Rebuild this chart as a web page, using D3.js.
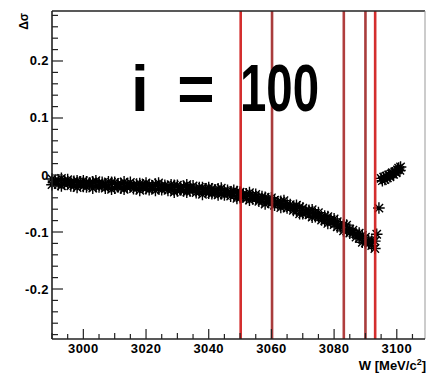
<!DOCTYPE html>
<html>
<head>
<meta charset="utf-8">
<script src="https://cdn.jsdelivr.net/npm/d3@7/dist/d3.min.js"></script>
<style>
body { margin: 0; background: #fff; }
text { font-family: "Liberation Sans", Arial, sans-serif; font-weight: bold; fill: #000; }
</style>
</head>
<body>
<script>
// scan points, W in MeV/c^2
const scanW = [
    2990, 2991, 2992, 2993, 2994, 2995, 2996, 2997, 2998, 2999,
    3000, 3001, 3002, 3003, 3004, 3005, 3006, 3007, 3008, 3009,
    3010, 3011, 3012, 3013, 3014, 3015, 3016, 3017, 3018, 3019,
    3020, 3021, 3022, 3023, 3024, 3025, 3026, 3027, 3028, 3029,
    3030, 3031, 3032, 3033, 3034, 3035, 3036, 3037, 3038, 3039,
    3040, 3041, 3042, 3043, 3044, 3045, 3046, 3047, 3048, 3049,
    3050, 3051, 3052, 3053, 3054, 3055, 3056, 3057, 3058, 3059,
    3060, 3061, 3062, 3063, 3064, 3065, 3066, 3067, 3068, 3069,
    3070, 3071, 3072, 3073, 3074, 3075, 3076, 3077, 3078, 3079,
    3080, 3081, 3082, 3083, 3084, 3085, 3086, 3087, 3088, 3089,
    3090, 3091, 3092, 3093
];
// upper edge of the band
const scanUpper = [
    -0.007, -0.010, -0.009, -0.006, -0.010, -0.008, -0.013, -0.011, -0.010, -0.012,
    -0.010, -0.012, -0.014, -0.012, -0.010, -0.014, -0.013, -0.017, -0.012, -0.013,
    -0.013, -0.016, -0.015, -0.012, -0.016, -0.013, -0.018, -0.016, -0.015, -0.017,
    -0.014, -0.017, -0.019, -0.016, -0.014, -0.019, -0.018, -0.021, -0.017, -0.018,
    -0.018, -0.022, -0.020, -0.017, -0.022, -0.019, -0.025, -0.022, -0.022, -0.024,
    -0.022, -0.024, -0.027, -0.024, -0.023, -0.028, -0.027, -0.031, -0.027, -0.029,
    -0.030, -0.034, -0.033, -0.031, -0.036, -0.034, -0.040, -0.038, -0.039, -0.042,
    -0.040, -0.044, -0.047, -0.046, -0.045, -0.051, -0.052, -0.056, -0.053, -0.056,
    -0.058, -0.063, -0.062, -0.061, -0.067, -0.066, -0.073, -0.072, -0.073, -0.078,
    -0.077, -0.082, -0.087, -0.087, -0.088, -0.095, -0.097, -0.103, -0.102, -0.106,
    -0.109, -0.115, -0.116, -0.116
];
// lower edge of the band
const scanLower = [
    -0.017, -0.014, -0.017, -0.019, -0.016, -0.015, -0.019, -0.019, -0.022, -0.017,
    -0.020, -0.021, -0.018, -0.023, -0.020, -0.021, -0.018, -0.023, -0.021, -0.025,
    -0.023, -0.020, -0.023, -0.025, -0.022, -0.020, -0.024, -0.024, -0.027, -0.022,
    -0.024, -0.026, -0.023, -0.027, -0.024, -0.026, -0.023, -0.027, -0.026, -0.030,
    -0.028, -0.026, -0.028, -0.030, -0.028, -0.026, -0.031, -0.030, -0.034, -0.029,
    -0.032, -0.033, -0.031, -0.035, -0.033, -0.035, -0.032, -0.037, -0.036, -0.041,
    -0.040, -0.038, -0.041, -0.044, -0.042, -0.041, -0.046, -0.046, -0.051, -0.047,
    -0.050, -0.053, -0.051, -0.057, -0.055, -0.058, -0.057, -0.062, -0.062, -0.068,
    -0.068, -0.067, -0.070, -0.074, -0.073, -0.073, -0.079, -0.080, -0.085, -0.083,
    -0.087, -0.091, -0.091, -0.098, -0.098, -0.102, -0.102, -0.109, -0.111, -0.118,
    -0.119, -0.119, -0.124, -0.129
];
// points past the dip
const tailW = [3093.6, 3094.3, 3095.0, 3095.4, 3095.8, 3096.2, 3096.6, 3097.0, 3097.4,
               3097.8, 3098.2, 3098.6, 3099.0, 3099.4, 3099.8, 3100.2, 3100.6, 3101.0, 3101.2];
const tailValues = [-0.104, -0.058, -0.006, -0.010, -0.004, -0.008, -0.002, -0.005, 0.000,
                    -0.003, 0.002, 0.004, 0.001, 0.006, 0.004, 0.009, 0.012, 0.008, 0.014];

// red vertical markers
const cutW = [3050.2, 3060.2, 3083.1, 3090.0, 3093.1];
const cutColors = ['#d01818', '#a02828', '#a82a2a', '#a02828', '#d01818'];

const xTicks = [3000, 3020, 3040, 3060, 3080, 3100];
const yTicks = [-0.2, -0.1, 0, 0.1, 0.2];

function starPath(s) {
    const d = s * 0.72;
    return `M${-s},0L${s},0M0,${-s}L0,${s}M${-d},${-d}L${d},${d}M${-d},${d}L${d},${-d}`;
}

function drawStars(g, xs, ys, scaleX, scaleY) {
    g.selectAll(null)
        .data(xs.map((w, i) => ({ w, v: ys[i] })))
        .enter()
        .append('path')
        .attr('d', starPath(5.8))
        .attr('transform', d => `translate(${scaleX(d.w)},${scaleY(d.v)})`)
        .attr('fill', 'none')
        .attr('stroke', '#000')
        .attr('stroke-width', 1.4);
}

function renderSVG() {
    // ==================================================
    // 1. size and frame
    // ==================================================
    const width = 428;
    const height = 374;
    const frame = { left: 52, right: 425, top: 11, bottom: 339 };

    const scaleX = d3.scaleLinear()
        .domain([2990, 3109])
        .range([frame.left, frame.right]);

    const scaleY = d3.scaleLinear()
        .domain([-0.2877, 0.2877])
        .range([frame.bottom, frame.top]);

    const svg = d3.select('body')
        .append('svg')
        .attr('width', width)
        .attr('height', height);

    // ==================================================
    // 2. data markers
    // ==================================================
    const dataG = svg.append('g');
    drawStars(dataG, scanW, scanUpper, scaleX, scaleY);
    drawStars(dataG, scanW, scanLower, scaleX, scaleY);
    drawStars(dataG, tailW, tailValues, scaleX, scaleY);

    // ==================================================
    // 3. red lines
    // ==================================================
    svg.selectAll('line.cut')
        .data(cutW)
        .enter()
        .append('line')
        .attr('class', 'cut')
        .attr('x1', d => scaleX(d))
        .attr('x2', d => scaleX(d))
        .attr('y1', frame.top)
        .attr('y2', frame.bottom)
        .attr('stroke', (d, i) => cutColors[i])
        .attr('stroke-width', 2.6)
        .attr('opacity', 0.9);

    // ==================================================
    // 4. frame and ticks
    // ==================================================
    svg.append('line')
        .attr('x1', frame.left).attr('x2', frame.right)
        .attr('y1', frame.top).attr('y2', frame.top)
        .attr('stroke', '#222').attr('stroke-width', 1.5);
    svg.append('line')
        .attr('x1', frame.right).attr('x2', frame.right)
        .attr('y1', frame.top).attr('y2', frame.bottom)
        .attr('stroke', '#999').attr('stroke-width', 1);
    svg.append('line')
        .attr('x1', frame.left).attr('x2', frame.left)
        .attr('y1', frame.top).attr('y2', frame.bottom)
        .attr('stroke', '#222').attr('stroke-width', 1.6);
    svg.append('line')
        .attr('x1', frame.left).attr('x2', frame.right)
        .attr('y1', frame.bottom).attr('y2', frame.bottom)
        .attr('stroke', '#222').attr('stroke-width', 1.6);

    const yMinor = d3.range(-14, 15).map(i => i * 0.02);
    svg.selectAll('line.ytick')
        .data(yMinor)
        .enter()
        .append('line')
        .attr('x1', frame.left)
        .attr('x2', d => frame.left + (Math.abs(Math.round(d * 50)) % 5 === 0 ? 11 : 6))
        .attr('y1', d => scaleY(d))
        .attr('y2', d => scaleY(d))
        .attr('stroke', '#222')
        .attr('stroke-width', 1.2);

    const xMinor = d3.range(2990, 3109, 5);
    svg.selectAll('line.xtick')
        .data(xMinor)
        .enter()
        .append('line')
        .attr('x1', d => scaleX(d))
        .attr('x2', d => scaleX(d))
        .attr('y1', frame.bottom)
        .attr('y2', d => frame.bottom - (d % 20 === 0 ? 10 : (d % 10 === 0 ? 6 : 5)))
        .attr('stroke', '#222')
        .attr('stroke-width', 1.2);

    // tick labels
    svg.selectAll('text.xlabel')
        .data(xTicks)
        .enter()
        .append('text')
        .attr('x', d => scaleX(d))
        .attr('y', 353)
        .attr('text-anchor', 'middle')
        .attr('font-size', '13px')
        .attr('letter-spacing', '0.4px')
        .text(d => d);

    svg.selectAll('text.ylabel')
        .data(yTicks)
        .enter()
        .append('text')
        .attr('x', 49)
        .attr('y', d => scaleY(d) + 4.5)
        .attr('text-anchor', 'end')
        .attr('font-size', '13px')
        .attr('letter-spacing', '0.4px')
        .text(d => String(d));

    // axis titles
    svg.append('text')
        .attr('x', 426)
        .attr('y', 370)
        .attr('text-anchor', 'end')
        .attr('font-size', '13px')
        .html('W [MeV/c<tspan dy="-5" font-size="9px">2</tspan><tspan dy="5">]</tspan>');

    svg.append('text')
        .attr('transform', 'translate(28,13) rotate(-90)')
        .attr('text-anchor', 'end')
        .attr('font-size', '12px')
        .text('Δσ');

    // ==================================================
    // 5. big label
    // ==================================================
    svg.append('text')
        .attr('x', 140).attr('y', 111)
        .attr('text-anchor', 'middle')
        .attr('font-family', 'DejaVu Sans')
        .attr('font-size', '64px')
        .text('i');
    svg.append('text')
        .attr('x', 196).attr('y', 111)
        .attr('text-anchor', 'middle')
        .attr('font-size', '64px')
        .text('=');
    svg.append('text')
        .attr('x', 240).attr('y', 111)
        .attr('font-size', '66px')
        .attr('font-family', 'DejaVu Sans')
        .attr('textLength', 79)
        .attr('lengthAdjust', 'spacingAndGlyphs')
        .text('100');
}

window.addEventListener('load', function() {
    requestAnimationFrame(renderSVG);
});
</script>
</body>
</html>
